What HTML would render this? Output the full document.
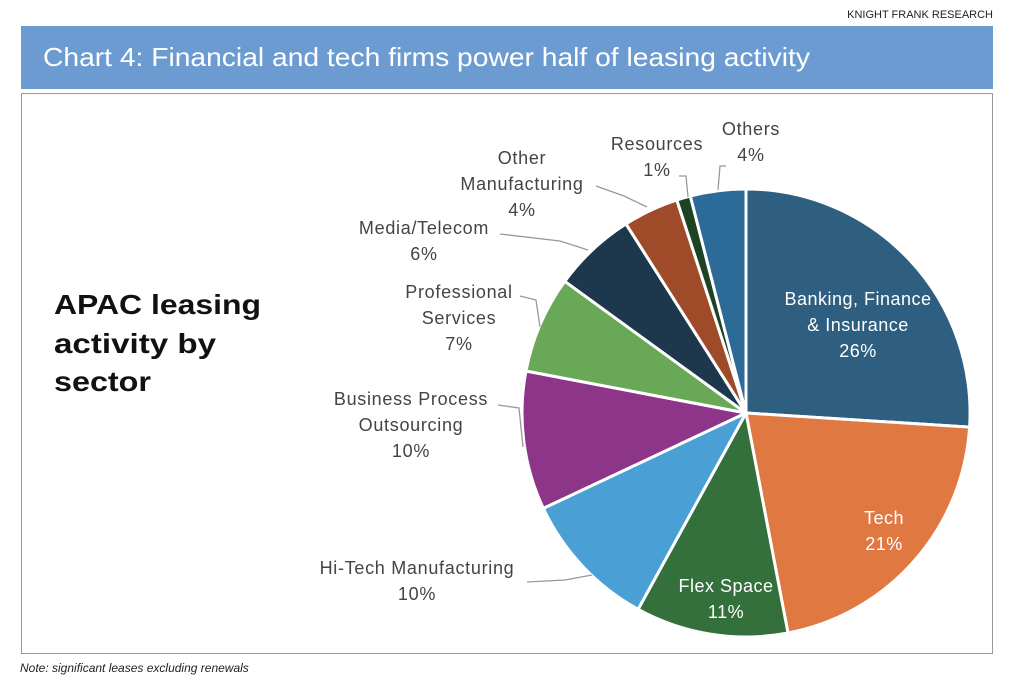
<!DOCTYPE html>
<html><head><meta charset="utf-8"><style>
body{margin:0;width:1014px;height:686px;background:#fff;overflow:hidden;font-family:"Liberation Sans",sans-serif}
</style></head><body>
<svg width="1014" height="686" xmlns="http://www.w3.org/2000/svg" font-family="Liberation Sans, sans-serif">
<text x="993" y="18" font-size="11" text-anchor="end" fill="#222">KNIGHT FRANK RESEARCH</text>
<rect x="21" y="26" width="972" height="63" fill="#6c9bd2"/>
<text x="43" y="66" font-size="26" fill="#fff" textLength="767" lengthAdjust="spacingAndGlyphs">Chart 4:  Financial and tech firms power half of leasing activity</text>
<rect x="21.5" y="93.5" width="971" height="560" fill="#fff" stroke="#999" stroke-width="1"/>
<text x="20" y="672" font-size="12" font-style="italic" fill="#222">Note: significant leases excluding renewals</text>
<g font-size="28" font-weight="bold" fill="#111">
<text x="54" y="314" textLength="207" lengthAdjust="spacingAndGlyphs">APAC leasing</text>
<text x="54" y="353" textLength="162" lengthAdjust="spacingAndGlyphs">activity by</text>
<text x="54" y="391" textLength="97" lengthAdjust="spacingAndGlyphs">sector</text>
</g>
<g stroke="#fff" stroke-width="3" stroke-linejoin="round">
<path d="M746,413 L746,189 A224,224 0 0 1 969.6,427.1 Z" fill="#2e5f80"/>
<path d="M746,413 L969.6,427.1 A224,224 0 0 1 788,633 Z" fill="#df7841"/>
<path d="M746,413 L788,633 A224,224 0 0 1 638.1,609.3 Z" fill="#34703b"/>
<path d="M746,413 L638.1,609.3 A224,224 0 0 1 543.3,508.4 Z" fill="#4a9fd5"/>
<path d="M746,413 L543.3,508.4 A224,224 0 0 1 526,371 Z" fill="#8d3589"/>
<path d="M746,413 L526,371 A224,224 0 0 1 564.8,281.3 Z" fill="#69a857"/>
<path d="M746,413 L564.8,281.3 A224,224 0 0 1 626,223.9 Z" fill="#1d374d"/>
<path d="M746,413 L626,223.9 A224,224 0 0 1 676.8,200 Z" fill="#9f4a29"/>
<path d="M746,413 L676.8,200 A224,224 0 0 1 690.3,196 Z" fill="#1d4224"/>
<path d="M746,413 L690.3,196 A224,224 0 0 1 746,189 Z" fill="#2c6a98"/>
</g>
<g fill="none" stroke="#999" stroke-width="1.3">
<polyline points="718,190 720,166 726,166"/>
<polyline points="688,197 686,176 679,176"/>
<polyline points="647,207 624,196 596,186"/>
<polyline points="588,250 560,241 500,234"/>
<polyline points="540,327 536,300 520,296"/>
<polyline points="523,447 519,408 498,405"/>
<polyline points="592,575 565,580 527,582"/>
</g>
<g font-size="18" fill="#444" text-anchor="middle" letter-spacing="0.7">
<text x="751" y="135">Others</text><text x="751" y="161">4%</text>
<text x="657" y="150">Resources</text><text x="657" y="176">1%</text>
<text x="522" y="164">Other</text><text x="522" y="190">Manufacturing</text><text x="522" y="216">4%</text>
<text x="424" y="234">Media/Telecom</text><text x="424" y="260">6%</text>
<text x="459" y="298">Professional</text><text x="459" y="324">Services</text><text x="459" y="350">7%</text>
<text x="411" y="405">Business Process</text><text x="411" y="431">Outsourcing</text><text x="411" y="457">10%</text>
<text x="417" y="574">Hi-Tech Manufacturing</text><text x="417" y="600">10%</text>
</g>
<g font-size="18" fill="#fff" text-anchor="middle" letter-spacing="0.5">
<text x="858" y="305">Banking, Finance</text><text x="858" y="331">&amp; Insurance</text><text x="858" y="357">26%</text>
<text x="884" y="524">Tech</text><text x="884" y="550">21%</text>
<text x="726" y="592">Flex Space</text><text x="726" y="618">11%</text>
</g>
</svg>
</body></html>
